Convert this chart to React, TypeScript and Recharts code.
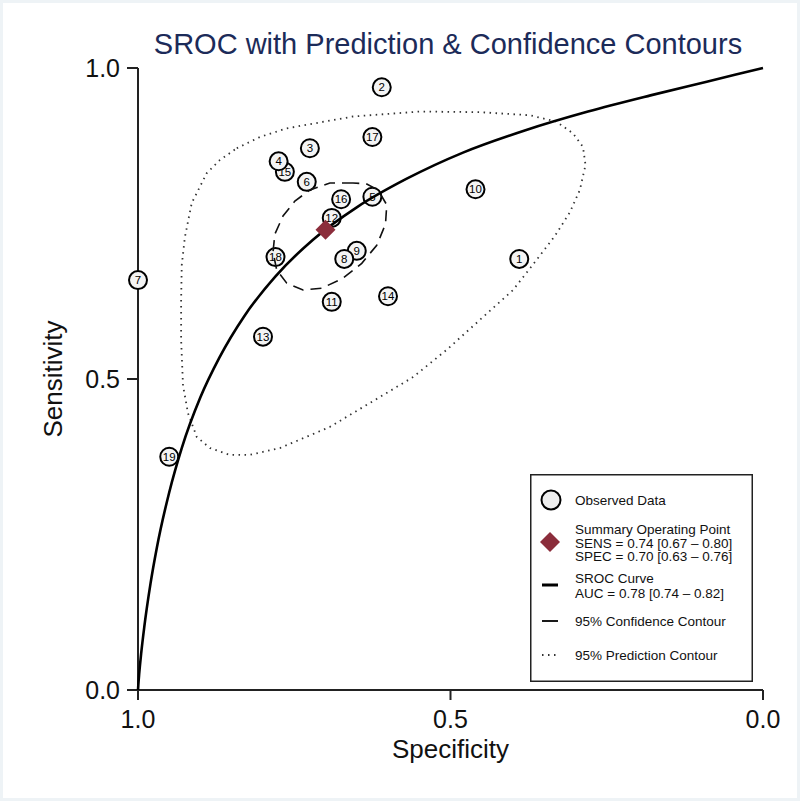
import { ScatterChart, Scatter, XAxis, YAxis, Legend } from "recharts";

const FONT = '"Liberation Sans", Arial, Helvetica, sans-serif';

// study points
const studyIds = [1, 2, 3, 4, 5, 6, 7, 8, 9, 10, 11, 12, 13, 14, 15, 16, 17, 18, 19];
const studySpec = [0.39, 0.61, 0.725, 0.775, 0.625, 0.73, 1.0, 0.67, 0.65, 0.46, 0.69, 0.69, 0.8, 0.6, 0.765, 0.675, 0.625, 0.78, 0.95];
const studySens = [0.693, 0.969, 0.871, 0.85, 0.793, 0.817, 0.659, 0.693, 0.706, 0.805, 0.624, 0.759, 0.568, 0.633, 0.833, 0.789, 0.889, 0.696, 0.375];

// summary operating point
const summarySpec = [0.7];
const summarySens = [0.74];

// SROC curve
const srocSpec = [1.0, 0.9995, 0.998, 0.995, 0.99, 0.98, 0.97, 0.95, 0.93, 0.9, 0.87, 0.83, 0.78, 0.72, 0.65, 0.57, 0.48, 0.38, 0.28, 0.18, 0.09, 0.0];
const srocSens = [0.0, 0.008, 0.027, 0.058, 0.101, 0.171, 0.228, 0.318, 0.389, 0.471, 0.534, 0.601, 0.665, 0.724, 0.776, 0.822, 0.864, 0.9, 0.93, 0.956, 0.978, 1.0];

// 95% confidence contour
const ciSpec = [0.656, 0.693, 0.725, 0.749, 0.768, 0.781, 0.784, 0.778, 0.762, 0.736, 0.706, 0.672, 0.642, 0.618, 0.604, 0.602, 0.616, 0.635];
const ciSens = [0.815, 0.815, 0.804, 0.786, 0.762, 0.733, 0.704, 0.675, 0.654, 0.643, 0.646, 0.662, 0.686, 0.715, 0.749, 0.78, 0.804, 0.814];

// 95% prediction contour
const piSpec = [0.842, 0.805, 0.762, 0.656, 0.549, 0.453, 0.373, 0.331, 0.304, 0.288, 0.284, 0.293, 0.309, 0.333, 0.365, 0.4, 0.453, 0.506, 0.56, 0.613, 0.693, 0.773, 0.821, 0.853, 0.885, 0.906, 0.92, 0.928, 0.931, 0.931, 0.93, 0.925, 0.914, 0.89, 0.869];
const piSens = [0.871, 0.889, 0.903, 0.922, 0.93, 0.929, 0.924, 0.914, 0.895, 0.873, 0.844, 0.804, 0.768, 0.73, 0.688, 0.643, 0.595, 0.547, 0.503, 0.471, 0.423, 0.389, 0.378, 0.378, 0.389, 0.407, 0.445, 0.49, 0.563, 0.627, 0.683, 0.728, 0.783, 0.831, 0.852];

const axisTicks = [0, 0.5, 1];

const toPoints = (xs: number[], ys: number[]) => xs.map((x, i) => ({ spec: x, sens: ys[i] }));

// drawn last-to-first so overlapping circles stack like the original
const studies = studyIds.map((id, i) => ({ id, spec: studySpec[i], sens: studySens[i] })).reverse();
const summary = toPoints(summarySpec, summarySens);
const sroc = toPoints(srocSpec, srocSens);
const ci = toPoints(ciSpec, ciSens);
const pi = toPoints(piSpec, piSens);

const NoShape = () => <g />;

const StudyMarker = (props: any) => {
  const { cx, cy, payload } = props;
  if (cx == null || cy == null) return <g />;
  return (
    <g>
      <circle cx={cx} cy={cy} r={9} fill="#f4f4f4" stroke="#000" strokeWidth={2} />
      <text x={cx} y={cy} dy="0.36em" textAnchor="middle" fontSize={11.5} fontFamily={FONT} fill="#000">
        {payload.id}
      </text>
    </g>
  );
};

const SummaryMarker = (props: any) => {
  const { cx, cy } = props;
  if (cx == null || cy == null) return <g />;
  return <polygon points={`${cx},${cy - 10} ${cx + 10},${cy} ${cx},${cy + 10} ${cx - 10},${cy}`} fill="#8b2d3b" />;
};

const LegendBox = () => {
  const t = { fontSize: 13.5, fontFamily: FONT, fill: "#111" };
  return (
    <svg width={223} height={208} style={{ display: "block" }}>
      <rect x={0.75} y={0.75} width={221.5} height={206.5} fill="#fff" stroke="#222" strokeWidth={1.5} />
      <circle cx={21} cy={26} r={9.5} fill="#eee" stroke="#000" strokeWidth={2} />
      <text x={45} y={30.8} {...t}>Observed Data</text>

      <polygon points="20,58 30,68 20,78 10,68" fill="#8b2d3b" />
      <text x={45} y={60.1} {...t}>Summary Operating Point</text>
      <text x={45} y={73.5} {...t}>SENS = 0.74 [0.67 – 0.80]</text>
      <text x={45} y={86.8} {...t}>SPEC = 0.70 [0.63 – 0.76]</text>

      <line x1={12} x2={28} y1={111} y2={111} stroke="#000" strokeWidth={3} />
      <text x={45} y={109.1} {...t}>SROC Curve</text>
      <text x={45} y={123.5} {...t}>AUC = 0.78 [0.74 – 0.82]</text>

      <line x1={12} x2={28} y1={147} y2={147} stroke="#000" strokeWidth={1.8} />
      <text x={45} y={151.5} {...t}>95% Confidence Contour</text>

      <line x1={12} x2={30} y1={181} y2={181} stroke="#333" strokeWidth={1.8} strokeDasharray="1.5 4.5" />
      <text x={45} y={185.8} {...t}>95% Prediction Contour</text>
    </svg>
  );
};

export default function App() {
  return (
    <div style={{ position: "absolute", left: 0, top: 0, width: 800, height: 801, background: "#fff" }}>
      <div
        style={{
          position: "absolute",
          left: 148,
          top: 30,
          width: 600,
          textAlign: "center",
          fontFamily: FONT,
          fontSize: 29,
          lineHeight: "29px",
          color: "#1c2b59",
        }}
      >
        SROC with Prediction &amp; Confidence Contours
      </div>
      <ScatterChart width={800} height={801} margin={{ top: 68, right: 37, bottom: 0, left: 0 }}>
        <XAxis
          type="number"
          dataKey="spec"
          domain={[0, 1]}
          reversed
          ticks={axisTicks}
          tickFormatter={(v: number) => v.toFixed(1)}
          height={111}
          tickSize={10}
          tickMargin={10}
          stroke="#222"
          strokeWidth={2}
          tick={{ fill: "#111", fontSize: 25, fontFamily: FONT }}
          label={{ value: "Specificity", position: "insideBottom", offset: 43, fill: "#111", fontSize: 26, fontFamily: FONT }}
        />
        <YAxis
          type="number"
          dataKey="sens"
          domain={[0, 1]}
          ticks={axisTicks}
          tickFormatter={(v: number) => v.toFixed(1)}
          width={138}
          tickSize={11}
          tickMargin={7}
          stroke="#222"
          strokeWidth={2}
          tick={{ fill: "#111", fontSize: 25, fontFamily: FONT }}
          label={{
            value: "Sensitivity",
            angle: -90,
            position: "insideLeft",
            offset: 53,
            fill: "#111",
            fontSize: 26,
            fontFamily: FONT,
            style: { textAnchor: "middle" },
          }}
        />
        <Scatter data={studies} shape={StudyMarker} isAnimationActive={false} />
        <Scatter
          data={pi}
          shape={NoShape}
          line={{ stroke: "#333", strokeWidth: 1.8, strokeDasharray: "1.5 4.5", fill: "none" }}
          lineJointType="linearClosed"
          isAnimationActive={false}
        />
        <Scatter
          data={ci}
          shape={NoShape}
          line={{ stroke: "#111", strokeWidth: 1.6, strokeDasharray: "11 7", fill: "none" }}
          lineJointType="linearClosed"
          isAnimationActive={false}
        />
        <Scatter
          data={sroc}
          shape={NoShape}
          line={{ stroke: "#000", strokeWidth: 2.6, fill: "none" }}
          lineJointType="monotoneX"
          isAnimationActive={false}
        />
        <Scatter data={summary} shape={SummaryMarker} isAnimationActive={false} />
        <Legend
          content={LegendBox}
          verticalAlign="middle"
          align="center"
          wrapperStyle={{ left: 530, top: 474, width: 223, height: 208 }}
        />
      </ScatterChart>
      <div
        style={{
          position: "absolute",
          left: 0,
          top: 0,
          width: 800,
          height: 801,
          boxSizing: "border-box",
          border: "3px solid #eef3f6",
          pointerEvents: "none",
        }}
      />
    </div>
  );
}
